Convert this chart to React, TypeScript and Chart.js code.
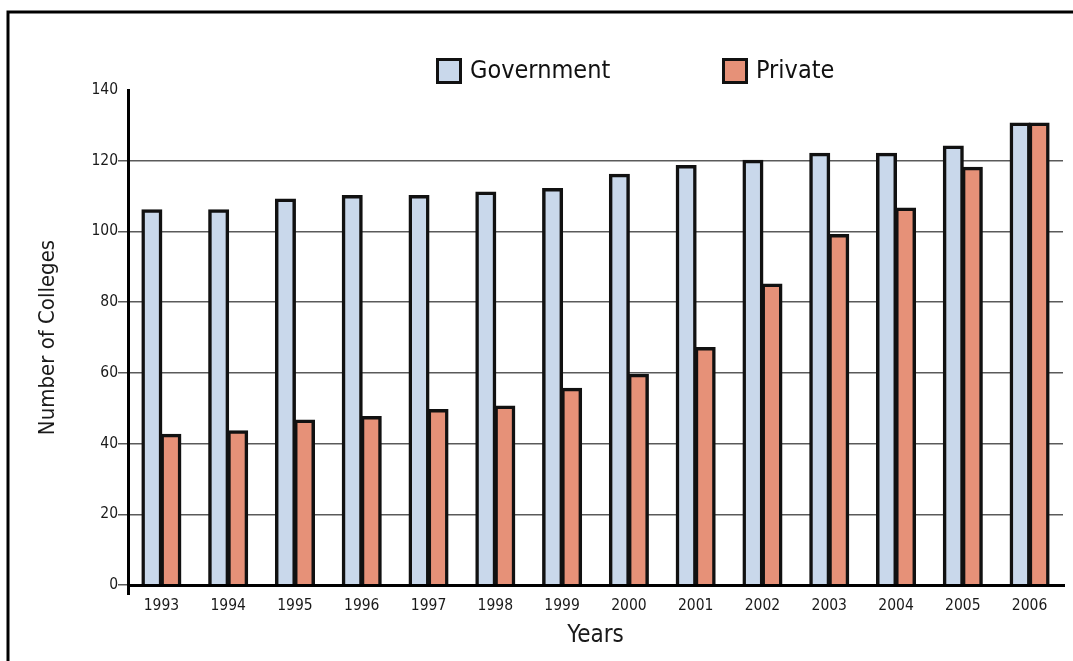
import React, { useEffect, useRef } from "react";
import { Chart, registerables } from "chart.js";

Chart.register(...registerables);

const years = ["1993", "1994", "1995", "1996", "1997", "1998", "1999", "2000", "2001", "2002", "2003", "2004", "2005", "2006"];
const government = [106, 106, 109, 110, 110, 111, 112, 116, 118.5, 120, 122, 122, 124, 130.5];
const privateColleges = [42.5, 43.5, 46.5, 47.5, 49.5, 50.5, 55.5, 59.5, 67, 85, 99, 106.5, 118, 130.5];
const seriesNames = ["Government", "Private"];
const yTitle = "Number of Colleges";
const xTitle = "Years";

const FONT = "'DejaVu Sans Condensed', 'DejaVu Sans', sans-serif";
const GOV_COLOR = "#c9d8eb";
const PRIV_COLOR = "#e69178";

const framePlugin = {
  id: "frame",
  beforeDraw(chart: any) {
    const ctx = chart.ctx;
    ctx.save();
    ctx.fillStyle = "#ffffff";
    ctx.fillRect(0, 0, chart.width, chart.height);
    ctx.strokeStyle = "#000";
    ctx.lineWidth = 3;
    ctx.beginPath();
    ctx.moveTo(8, chart.height + 5);
    ctx.lineTo(8, 12);
    ctx.lineTo(chart.width + 5, 12);
    ctx.stroke();
    ctx.restore();
  },
};

const legendPlugin = {
  id: "customLegend",
  afterDraw(chart: any) {
    const ctx = chart.ctx;
    const items = [
      { x: 436, text: seriesNames[0], color: GOV_COLOR },
      { x: 722, text: seriesNames[1], color: PRIV_COLOR },
    ];
    ctx.save();
    ctx.font = `25px ${FONT}`;
    ctx.textBaseline = "middle";
    ctx.textAlign = "left";
    items.forEach((it) => {
      ctx.fillStyle = it.color;
      ctx.fillRect(it.x, 58, 26, 26);
      ctx.strokeStyle = "#111";
      ctx.lineWidth = 3;
      ctx.strokeRect(it.x + 1.5, 59.5, 23, 23);
      ctx.fillStyle = "#111";
      ctx.fillText(it.text, it.x + 34, 71);
    });
    ctx.restore();
  },
};

export default function App() {
  const ref = useRef<HTMLCanvasElement>(null);
  useEffect(() => {
    if (!ref.current) return;
    const chart = new Chart(ref.current, {
      type: "bar",
      data: {
        labels: years,
        datasets: [
          {
            label: seriesNames[0],
            data: government,
            backgroundColor: GOV_COLOR,
            borderColor: "#111",
            borderWidth: 3.5,
            borderSkipped: "start",
            inflateAmount: 1,
            barPercentage: 1,
            categoryPercentage: 0.57,
          },
          {
            label: seriesNames[1],
            data: privateColleges,
            backgroundColor: PRIV_COLOR,
            borderColor: "#111",
            borderWidth: 3.5,
            borderSkipped: "start",
            inflateAmount: 1,
            barPercentage: 1,
            categoryPercentage: 0.57,
          },
        ],
      },
      options: {
        responsive: false,
        animation: false,
        layout: { padding: { top: 90, right: 10, bottom: 0, left: 0 } },
        plugins: {
          legend: { display: false },
          tooltip: { enabled: false },
        },
        scales: {
          x: {
            afterFit: (s: any) => {
              s.height = 76;
            },
            grid: {
              drawOnChartArea: false,
              drawTicks: true,
              tickLength: 10,
              lineWidth: 3,
              color: (c: any) => (c.index === 0 ? "#000" : "rgba(0,0,0,0)"),
            },
            border: { display: true, color: "#000", width: 3, z: 1 },
            ticks: {
              color: "#1a1a1a",
              padding: 2,
              font: { family: FONT, size: 15.5 },
              maxRotation: 0,
            },
            title: {
              display: true,
              text: xTitle,
              color: "#1a1a1a",
              font: { family: FONT, size: 24 },
              padding: { top: 0, bottom: 11 },
            },
          },
          y: {
            min: 0,
            max: 140,
            afterFit: (s: any) => {
              s.width = 128;
            },
            grid: {
              drawTicks: true,
              tickLength: 10,
              lineWidth: 1.5,
              color: (c: any) => (c.tick && c.tick.value === 140 ? "rgba(0,0,0,0)" : "#5a5a5a"),
            },
            border: { display: true, color: "#000", width: 3 },
            ticks: {
              stepSize: 20,
              color: "#1a1a1a",
              padding: 0,
              font: { family: FONT, size: 15.5 },
            },
            title: {
              display: true,
              text: yTitle,
              color: "#1a1a1a",
              font: { family: FONT, size: 22 },
              padding: { top: 35, bottom: 0 },
            },
          },
        },
      },
      plugins: [framePlugin, legendPlugin],
    });
    return () => chart.destroy();
  }, []);
  return (
    <div style={{ position: "fixed", left: 0, top: 0, width: 1073, height: 661, background: "#fff" }}>
      <canvas ref={ref} width={1073} height={661} style={{ display: "block" }} />
    </div>
  );
}
